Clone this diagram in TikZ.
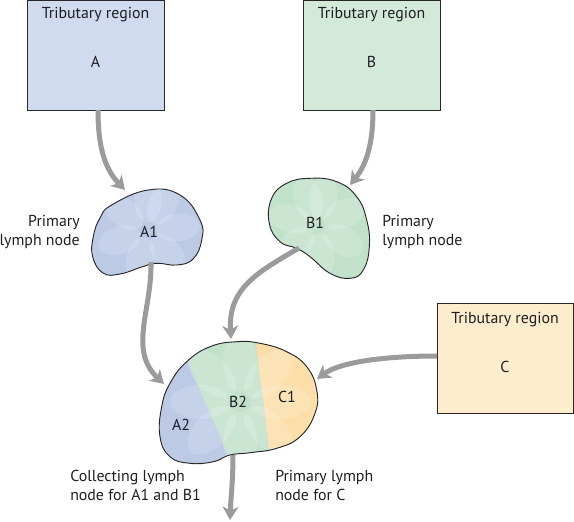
\documentclass[tikz,border=0pt]{standalone}
\usepackage{fontspec}
\setmainfont{PT Sans}
\usetikzlibrary{arrows.meta}
\definecolor{boxA}{RGB}{208,219,239}
\definecolor{boxB}{RGB}{211,234,219}
\definecolor{boxC}{RGB}{254,237,204}
\definecolor{blobBlue}{RGB}{188,202,230}
\definecolor{blobGreen}{RGB}{194,225,203}
\definecolor{blobOrange}{RGB}{251,222,168}
\definecolor{arrowgray}{RGB}{155,155,158}
\definecolor{txt}{RGB}{30,30,35}
\newcommand\pathAone{plot[smooth cycle, tension=0.75] coordinates {(111.7,205) (148,190) (180,195) (200,220) (201.7,240) (193,259) (176.7,265) (156.7,263.3) (141.7,267) (120,274) (103,273) (92.7,256.7) (93.3,236.7) (100,218)}}
\newcommand\pathBone{plot[smooth cycle, tension=0.75] coordinates {(310,178.3) (336.7,181.7) (356.7,196.7) (366.7,220) (369.3,246.7) (363.3,270) (350,278.3) (330,273.3) (310,256.7) (296.7,248.3) (280,241.7) (269.3,223.3) (271.7,198.3) (286.7,183.3)}}
\newcommand\pathBig{plot[smooth cycle, tension=0.75] coordinates {(186.7,361.7) (210,346.7) (236.7,341.7) (260,343.3) (286.7,351.7) (306.7,366.7) (316.7,390) (315,413.3) (300,436.7) (276.7,448.3) (250,452.7) (230,455) (213.3,461.7) (190,463.3) (170,456.7) (160,436.7) (161.7,406.7) (170,383.3)}}
\tikzset{
  regionbox/.style={draw=black!85, line width=1pt, anchor=north west, inner sep=0pt},
  lbl/.style={text=txt, font=\fontsize{11.9pt}{14.25pt}\selectfont, inner sep=0pt},
  flow/.style={draw=arrowgray, line width=3.75pt, -{Stealth[length=10pt,width=12pt,inset=3pt]}},
  outline/.style={draw=black!85, line width=0.7pt},
  lobe/.style={fill=white, fill opacity=0.16},
}
\begin{document}
\begin{tikzpicture}[x=0.75pt,y=-0.75pt]
\useasboundingbox (0,0) rectangle (574,521);
% tributary boxes
\node[regionbox, fill=boxA, minimum width=102.75pt, minimum height=82.5pt] (boxA) at (27,0) {};
\node[regionbox, fill=boxB, minimum width=102.75pt, minimum height=82.5pt] (boxB) at (303,0) {};
\node[regionbox, fill=boxC, minimum width=102pt, minimum height=82.5pt] (boxC) at (437,303) {};
\node[lbl, anchor=base] (tA) at (95.5,18) {Tributary region};
\node[lbl, anchor=base] (lA) at (95.5,67) {A};
\node[lbl, anchor=base] (tB) at (371.5,18) {Tributary region};
\node[lbl, anchor=base] (lB) at (371.5,67) {B};
\node[lbl, anchor=base] (tC) at (505,323) {Tributary region};
\node[lbl, anchor=base] (lC) at (505,372) {C};
% blob A1
\begin{scope}
  \clip \pathAone;
  \fill[blobBlue] (80,180) rectangle (215,285);
  \foreach \a in {0,55,110,165,220,275,330} {
    \fill[lobe, rotate around={\a:(148,230)}] (148,200) ellipse [x radius=14, y radius=22];
  }
\end{scope}
\draw[outline] \pathAone;
% blob B1
\begin{scope}
  \clip \pathBone;
  \fill[blobGreen] (260,170) rectangle (380,285);
  \foreach \a in {20,75,130,185,240,295,350} {
    \fill[lobe, rotate around={\a:(318,226)}] (318,197) ellipse [x radius=14, y radius=22];
  }
\end{scope}
\draw[outline] \pathBone;
% collecting node
\begin{scope}
  \clip \pathBig;
  \fill[blobBlue] (150,330) rectangle (330,470);
  \fill[blobGreen] (180,330) -- (254,330) -- (272,470) -- (228,470) -- (228,455) -- (185,355) -- cycle;
  \fill[blobGreen] (186.7,361.7) -- (180,330) -- (254,330) -- cycle;
  \fill[blobOrange] (254,330) -- (330,330) -- (330,470) -- (272,470) -- cycle;
  \foreach \a in {0,45,90,135,180,225,270,315} {
    \fill[lobe, rotate around={\a:(240,402)}] (240,362) ellipse [x radius=17, y radius=30];
  }
\end{scope}
\draw[outline] \pathBig;
% node labels
\node[lbl, anchor=base] (A1) at (149,237) {A1};
\node[lbl, anchor=base] (B1) at (315,228) {B1};
\node[lbl, anchor=base] (A2) at (181,430) {A2};
\node[lbl, anchor=base] (B2) at (238,407) {B2};
\node[lbl, anchor=base] (C1) at (287,402) {C1};
% text labels
\node[lbl, align=right, anchor=north east] (pA) at (80,215) {Primary\\lymph node};
\node[lbl, align=left, anchor=north west] (pB) at (382,215) {Primary\\lymph node};
\node[lbl, align=left, anchor=north west] (coll) at (70,470) {Collecting lymph\\node for A1 and B1};
\node[lbl, align=left, anchor=north west] (pC) at (275,470) {Primary lymph\\node for C};
% connector end points
\coordinate (sA) at (98,110);
\coordinate (eA) at (125,190);
\coordinate (sB) at (373,110);
\coordinate (eB) at (350,185);
\coordinate (sA1) at (151,262);
\coordinate (eA1) at (164,384);
\coordinate (sB1) at (299,248);
\coordinate (eB1) at (231,339);
\coordinate (sC) at (437,356);
\coordinate (eC) at (317,379);
\coordinate (sOut) at (233,455);
\coordinate (eOut) at (230,520);
% connectors
\draw[flow] (sA) .. controls (98,150) and (106,170) .. (eA);
\draw[flow] (sB) .. controls (373,145) and (366,165) .. (eB);
\draw[flow] (sA1) .. controls (152,310) and (128,350) .. (eA1);
\draw[flow] (sB1) .. controls (258,272) and (228,288) .. (eB1);
\draw[flow] (sC) .. controls (385,356) and (340,362) .. (eC);
\draw[flow] (sOut) .. controls (233,480) and (231,495) .. (eOut);
\end{tikzpicture}
\end{document}
